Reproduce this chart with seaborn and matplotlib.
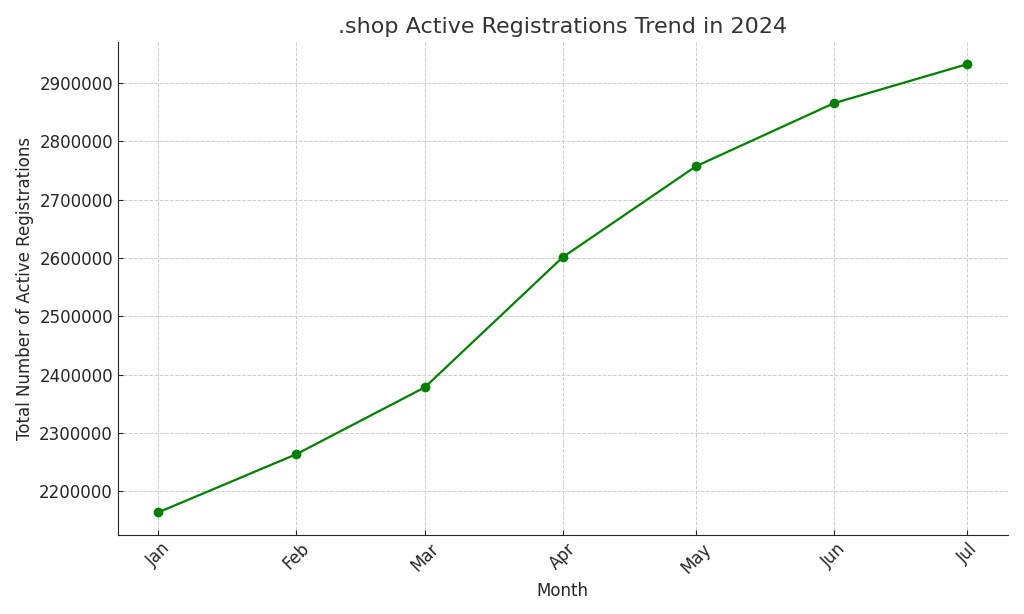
import pandas as pd
import numpy as np
import seaborn as sns
import matplotlib.pyplot as plt
import matplotlib.dates as mdates

months = ["2024-01-01", "2024-02-01", "2024-03-01", "2024-04-01",
          "2024-05-01", "2024-06-01", "2024-07-01"]
registrations = [2164000, 2263500, 2378500, 2601500, 2757500, 2865500, 2932500]

data = pd.DataFrame({"Month": pd.to_datetime(months), "Registrations": registrations})

sns.set_style("ticks")
plt.rcParams["font.family"] = ["DejaVu Sans"]

fig, ax = plt.subplots(figsize=(10.24, 6.14), dpi=100)
plt.subplots_adjust(left=0.115, right=0.984, top=0.932, bottom=0.129)

sns.lineplot(x="Month", y="Registrations", data=data, marker="o", color="green",
             markersize=7, markeredgewidth=0, linewidth=1.6, ax=ax)

ax.xaxis.set_major_locator(mdates.MonthLocator())
ax.xaxis.set_major_formatter(mdates.DateFormatter("%b"))
ax.ticklabel_format(axis="y", style="plain")
plt.xticks(rotation=45)
ax.tick_params(direction="in", labelsize=12, colors="#262626")
ax.grid(True, linestyle="--", color="#cccccc", linewidth=0.7)
sns.despine(ax=ax)

ax.set_title(".shop Active Registrations Trend in 2024", fontsize=16, color="#333333")
ax.set_xlabel("Month", fontsize=12, color="#262626")
ax.set_ylabel("Total Number of Active Registrations", fontsize=12, color="#262626")

plt.savefig("out.png", dpi=100)
